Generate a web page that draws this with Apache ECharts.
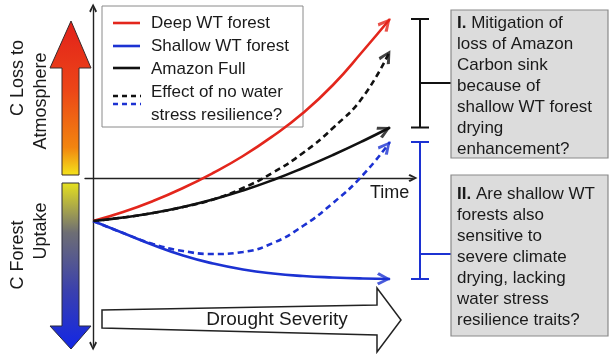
<!DOCTYPE html>
<html>
<head>
<meta charset="utf-8">
<script src="https://cdn.jsdelivr.net/npm/echarts@6.0.0/dist/echarts.min.js"></script>
<style>
html,body{margin:0;padding:0;background:#fff}
#main{width:613px;height:354px}
</style>
</head>
<body>
<div id="main"></div>
<script>
// time steps and carbon balance per curve (positive = C loss to atmosphere)
var times        = [0, 1, 2, 3, 4, 5, 6, 7, 8, 9, 9.9];
var deepWT       = [-1.075, -0.85, -0.575, -0.25, 0.125, 0.55, 1.05, 1.625, 2.325, 3.175, 3.975];
var shallowWT    = [-1.075, -1.375, -1.675, -1.9375, -2.1375, -2.2875, -2.3875, -2.45, -2.4875, -2.5125, -2.525];
var amazonFull   = [-1.075, -0.9875, -0.875, -0.725, -0.5375, -0.3125, -0.05, 0.25, 0.575, 0.925, 1.2625];
var amazonNoRes  = [-1.075, -0.9875, -0.875, -0.725, -0.5375, -0.25, 0.1375, 0.625, 1.25, 2.025, 3.175];
var shallowNoRes = [-1.075, -1.375, -1.65, -1.825, -1.9, -1.85, -1.625, -1.2, -0.625, 0.075, 0.9];

var RED = '#e3261c', BLUE = '#1c32d2', BLACK = '#111';
var FONT = 'Liberation Sans, Arial, sans-serif';
var CHEVRON = 'path://M5,0 L10,10 L8,11.5 L5,4.5 L2,11.5 L0,10 Z';

function pairs(vals) {
    return vals.map(function (v, i) { return [times[i], v]; });
}

var chart = echarts.init(document.getElementById('main'));

function curve(name, vals, color, dashed, z) {
    return {
        name: name,
        type: 'line',
        data: pairs(vals),
        smooth: 0.5,
        symbol: 'none',
        z: z,
        silent: true,
        lineStyle: {color: color, width: 2.6, type: dashed ? [6, 4] : 'solid'}
    };
}

var option = {
    backgroundColor: '#fff',
    animation: false,
    grid: {left: 85, right: 200, top: 8, bottom: 8},
    xAxis: {
        type: 'value', min: -0.27, max: 10.67,
        axisLine: {onZero: true, symbol: ['none', CHEVRON], symbolSize: [10, 9],
            lineStyle: {color: '#222', width: 1.4}},
        axisTick: {show: false}, axisLabel: {show: false}, splitLine: {show: false}
    },
    yAxis: {
        type: 'value', min: -4.2, max: 4.25,
        axisLine: {onZero: true, symbol: [CHEVRON, CHEVRON], symbolSize: [10, 9],
            lineStyle: {color: '#222', width: 1.4}},
        axisTick: {show: false}, axisLabel: {show: false}, splitLine: {show: false}
    },
    series: [
        curve('Deep WT forest', deepWT, RED, false, 3),
        curve('Effect of no water stress resilience (Amazon)', amazonNoRes, BLACK, true, 2),
        curve('Effect of no water stress resilience (Shallow)', shallowNoRes, BLUE, true, 2),
        curve('Shallow WT forest', shallowWT, BLUE, false, 3),
        curve('Amazon Full', amazonFull, BLACK, false, 4),
        {id: 'heads', type: 'scatter', data: [], z: 5, silent: true}
    ]
};
chart.setOption(option);

// arrow heads at curve ends, oriented along last segment
function head(vals, color) {
    var n = vals.length;
    var a = chart.convertToPixel({gridIndex: 0}, [times[n - 2], vals[n - 2]]);
    var b = chart.convertToPixel({gridIndex: 0}, [times[n - 1], vals[n - 1]]);
    var dx = b[0] - a[0], dy = b[1] - a[1];
    var len = Math.sqrt(dx * dx + dy * dy);
    var ux = dx / len, uy = dy / len;
    var rot = Math.atan2(-dy, dx) * 180 / Math.PI - 90;
    return {
        value: [times[n - 1], vals[n - 1]],
        symbol: CHEVRON,
        symbolSize: [13, 14],
        symbolRotate: rot,
        symbolOffset: [-ux * 6, -uy * 6],
        itemStyle: {color: color}
    };
}
function endPx(vals) {
    var n = vals.length;
    return chart.convertToPixel({gridIndex: 0}, [times[n - 1], vals[n - 1]]);
}

var heads = [
    head(deepWT, RED), head(amazonNoRes, BLACK), head(shallowNoRes, BLUE),
    head(shallowWT, BLUE), head(amazonFull, BLACK)
];

var bx = 420;
var b1top = endPx(deepWT)[1], b1bot = endPx(amazonFull)[1];
var b2top = endPx(shallowNoRes)[1], b2bot = endPx(shallowWT)[1];

function seg(x1, y1, x2, y2, color, w, dash) {
    return {type: 'line', silent: true, shape: {x1: x1, y1: y1, x2: x2, y2: y2},
        style: {stroke: color, lineWidth: w, lineDash: dash || null}};
}
function txt(x, y, text, size, opts) {
    var o = {type: 'text', x: x, y: y, silent: true,
        style: {text: text, font: size + 'px ' + FONT, fill: '#1a1a1a',
            textAlign: 'left', textVerticalAlign: 'middle'}};
    if (opts) {
        for (var k in opts) {
            if (k === 'style') { for (var s in opts.style) o.style[s] = opts.style[s]; }
            else o[k] = opts[k];
        }
    }
    return o;
}

var upGrad = new echarts.graphic.LinearGradient(0, 0, 0, 1, [
    {offset: 0, color: '#e2201a'}, {offset: 0.45, color: '#ec4618'},
    {offset: 0.82, color: '#f2850f'}, {offset: 1, color: '#f4e41c'}]);
var downGrad = new echarts.graphic.LinearGradient(0, 0, 0, 1, [
    {offset: 0, color: '#e6e11e'}, {offset: 0.3, color: '#6e6e74'},
    {offset: 0.65, color: '#3a40ae'}, {offset: 1, color: '#1226e6'}]);

var boxRich = {b: {font: 'bold 17px ' + FONT, fill: '#1a1a1a', lineHeight: 21},
    n: {font: '17px ' + FONT, fill: '#1a1a1a', lineHeight: 21}};

var graphics = [
    // left gradient arrows
    {type: 'polygon', silent: true, shape: {points: [[71, 21], [91, 68], [79, 68], [79, 175], [62, 175], [62, 68], [50, 68]]},
        style: {fill: upGrad, stroke: '#3a2a2a', lineWidth: 1}},
    {type: 'polygon', silent: true, shape: {points: [[62, 183], [79, 183], [79, 326], [91, 326], [71, 349], [50, 326], [62, 326]]},
        style: {fill: downGrad, stroke: '#2a2a3a', lineWidth: 1}},
    txt(18, 78, 'C Loss to', 18, {rotation: Math.PI / 2, style: {textAlign: 'center'}}),
    txt(41, 101, 'Atmosphere', 18, {rotation: Math.PI / 2, style: {textAlign: 'center'}}),
    txt(18, 255, 'C Forest', 18, {rotation: Math.PI / 2, style: {textAlign: 'center'}}),
    txt(41, 231, 'Uptake', 18, {rotation: Math.PI / 2, style: {textAlign: 'center'}}),

    // legend
    {type: 'rect', silent: true, shape: {x: 102, y: 6, width: 201, height: 121},
        style: {fill: '#fff', stroke: '#8a8a8a', lineWidth: 1}},
    seg(113, 23, 140, 23, RED, 2.6),
    seg(113, 46, 140, 46, BLUE, 2.6),
    seg(113, 68, 140, 68, BLACK, 2.6),
    seg(113, 96, 141, 96, BLACK, 2.6, [5, 4]),
    seg(113, 104, 141, 104, BLUE, 2.6, [5, 4]),
    txt(151, 23, 'Deep WT forest', 17),
    txt(151, 46, 'Shallow WT forest', 17),
    txt(151, 69, 'Amazon Full', 17),
    txt(151, 104, 'Effect of no water\nstress resilience?', 17, {style: {lineHeight: 23}}),

    // time label
    txt(370, 193, 'Time', 18),

    // drought severity arrow
    {type: 'polygon', silent: true,
        shape: {points: [[102, 310], [377, 305], [377, 288], [401, 320], [377, 352], [377, 335], [102, 328]]},
        style: {fill: '#fff', stroke: '#222', lineWidth: 1.5}},
    txt(277, 320, 'Drought Severity', 19, {style: {textAlign: 'center'}}),

    // brackets
    seg(bx, b1top, bx, b1bot, BLACK, 2),
    seg(bx - 9, b1top, bx + 9, b1top, BLACK, 2),
    seg(bx - 9, b1bot, bx + 9, b1bot, BLACK, 2),
    seg(bx, 83, 451, 83, BLACK, 2),
    seg(bx, b2top, bx, b2bot, BLUE, 2),
    seg(bx - 9, b2top, bx + 9, b2top, BLUE, 2),
    seg(bx - 9, b2bot, bx + 9, b2bot, BLUE, 2),
    seg(bx, 254, 451, 254, BLUE, 2),

    // question boxes
    {type: 'rect', silent: true, shape: {x: 451, y: 10, width: 157, height: 148},
        style: {fill: '#dcdcdc', stroke: '#8a8a8a', lineWidth: 1.2}},
    {type: 'text', x: 457, y: 13, silent: true, style: {
        text: '{b|I.}{n| Mitigation of}\n{n|loss of Amazon}\n{n|Carbon sink}\n{n|because of}\n{n|shallow WT forest}\n{n|drying}\n{n|enhancement?}',
        rich: boxRich, font: '17px ' + FONT, lineHeight: 21, textAlign: 'left', textVerticalAlign: 'top'}},
    {type: 'rect', silent: true, shape: {x: 451, y: 175, width: 157, height: 161},
        style: {fill: '#dcdcdc', stroke: '#8a8a8a', lineWidth: 1.2}},
    {type: 'text', x: 457, y: 184, silent: true, style: {
        text: '{b|II.}{n| Are shallow WT}\n{n|forests also}\n{n|sensitive to}\n{n|severe climate}\n{n|drying, lacking}\n{n|water stress}\n{n|resilience traits?}',
        rich: boxRich, font: '17px ' + FONT, lineHeight: 21, textAlign: 'left', textVerticalAlign: 'top'}}
];

chart.setOption({
    series: [{id: 'heads', data: heads}],
    graphic: graphics
});
</script>
</body>
</html>
